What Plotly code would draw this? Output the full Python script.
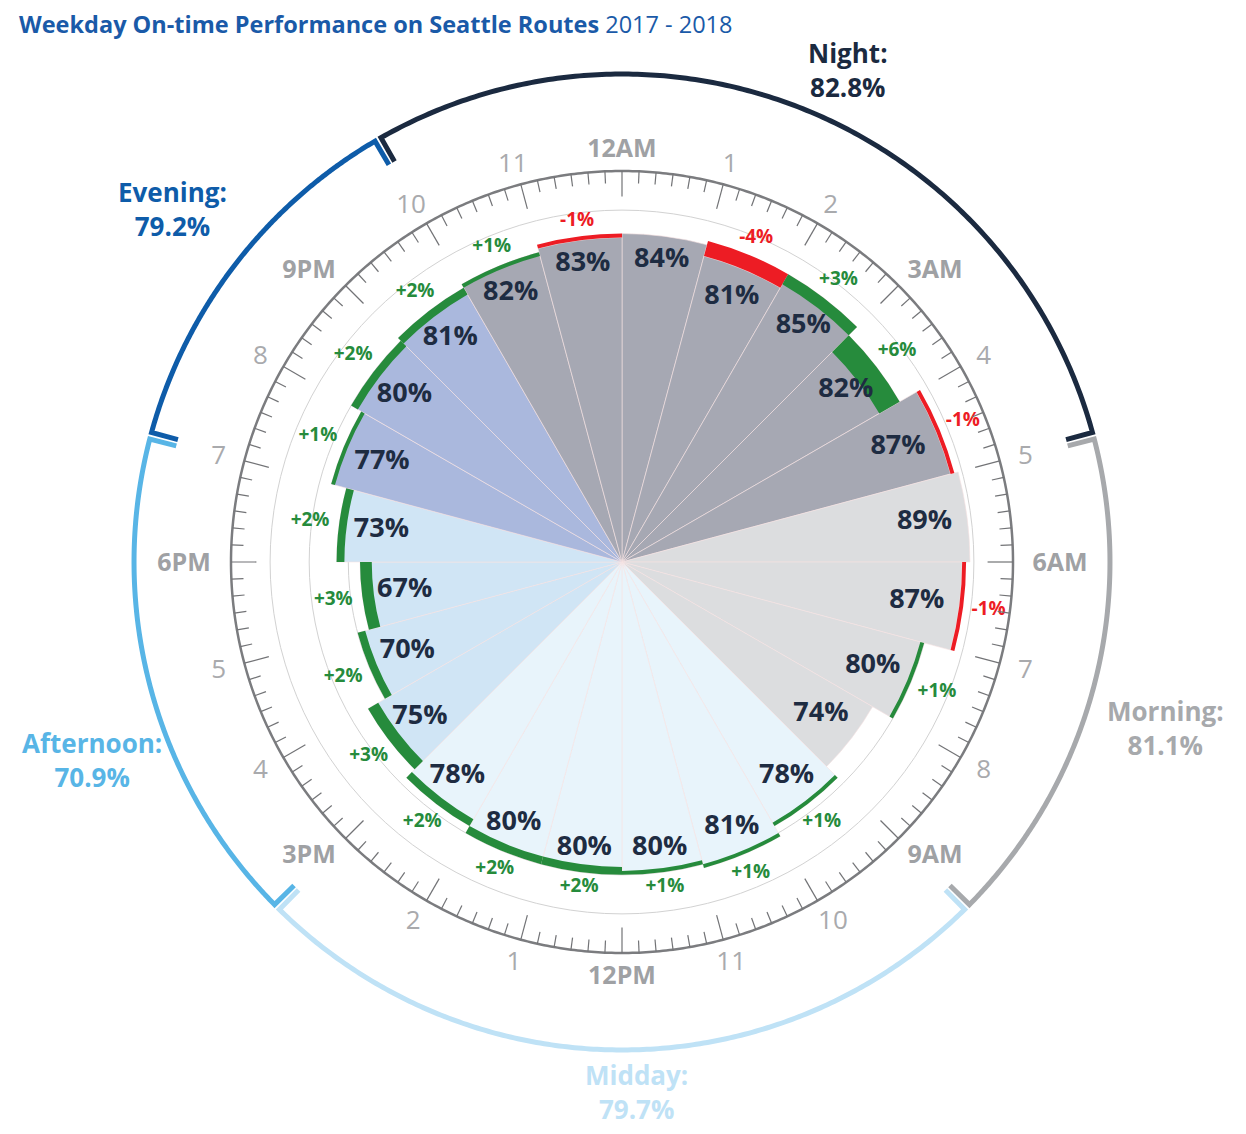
import numpy as np
import plotly.graph_objects as go

# hourly weekday on-time %, slot 0 = 12AM-1AM, going clockwise
hours = list(range(24))
on_time = [84, 81, 85, 82, 87, 89, 87, 80, 74, 78, 81, 80,
           80, 80, 78, 75, 70, 67, 73, 77, 80, 81, 82, 83]
# change vs the year before (points)
change = [0, -4, 3, 6, -1, 0, -1, 1, 0, 1, 1, 1,
          2, 2, 2, 3, 2, 3, 2, 1, 2, 2, 1, -1]

hour_labels = ["12AM", "1", "2", "3AM", "4", "5", "6AM", "7", "8", "9AM", "10", "11",
               "12PM", "1", "2", "3PM", "4", "5", "6PM", "7", "8", "9PM", "10", "11"]

periods = ["Midday", "Morning", "Afternoon", "Evening", "Night"]  # draw order
period_start = [9, 5, 15, 19, 22]
period_end = [15, 9, 19, 22, 29]  # night runs past midnight to 5AM
period_avg = [79.7, 81.1, 70.9, 79.2, 82.8]

# styles
bar_col = {"Night": "#a6a8b3", "Morning": "#dcdddf", "Midday": "#e8f4fb",
           "Afternoon": "#d0e5f5", "Evening": "#aab8dd"}
arc_col = {"Night": "#1b2a40", "Morning": "#a7a9ac", "Midday": "#bfe2f6",
           "Afternoon": "#58b5e6", "Evening": "#0e5ca9"}
label_pos = {"Night": (848, 70), "Evening": (172, 209), "Afternoon": (92, 760),
             "Midday": (636, 1092), "Morning": (1165, 728)}
GREEN = "#268b3c"
RED = "#ed1c24"
NAVY = "#1e2c42"
FONT = "Open Sans"
W, H = 1246, 1134
OFF = 8  # page body margin
PX = 3.91  # pixels per percent point


def period_of(h):
    for p, s, e in zip(periods, period_start, period_end):
        if s <= h < e or s <= h + 24 < e:
            return p


theta_mid = [h * 15 + 7.5 for h in hours]
colors = [bar_col[period_of(h)] for h in hours]

fig = go.Figure()

# hourly bars
fig.add_trace(go.Barpolar(
    r=on_time, theta=theta_mid, width=[15] * 24,
    marker=dict(color=colors, line=dict(color="#f6e2e3", width=0.6)),
    hoverinfo="skip"))

# change bands between last year and this year
band_r, band_base, band_t, band_c = [], [], [], []
for v, c, t in zip(on_time, change, theta_mid):
    if c == 0:
        continue
    band_base.append(min(v, v - c))
    band_r.append(abs(c))
    band_t.append(t)
    band_c.append(GREEN if c > 0 else RED)
fig.add_trace(go.Barpolar(
    r=band_r, base=band_base, theta=band_t, width=[15] * len(band_r),
    marker=dict(color=band_c, line=dict(width=0)), hoverinfo="skip"))

# value labels inside bars
vl_r = [v - 5.5 - 5.5 * abs(np.sin(np.radians(t))) for v, t in zip(on_time, theta_mid)]
fig.add_trace(go.Scatterpolar(
    r=vl_r, theta=theta_mid, mode="text",
    text=[f"{v}%" for v in on_time],
    textfont=dict(family=FONT, size=27, color=NAVY, weight="bold"),
    hoverinfo="skip"))

# change labels
cl_r, cl_t, cl_txt, cl_col = [], [], [], []
for v, c, t in zip(on_time, change, theta_mid):
    if c == 0:
        continue
    half = 3.1 if c < 0 else 4.0
    cl_r.append(max(v, v - c) + 3.5 + half * abs(np.sin(np.radians(t))))
    cl_t.append(t)
    cl_txt.append(f"{c:+d}%")
    cl_col.append(GREEN if c > 0 else RED)
fig.add_trace(go.Scatterpolar(
    r=cl_r, theta=cl_t, mode="text", text=cl_txt,
    textfont=dict(family=FONT, size=19, color=cl_col, weight="bold"),
    hoverinfo="skip"))

# clock dial: ring + ticks
ring_t = np.linspace(0, 360, 721)
fig.add_trace(go.Scatterpolar(
    r=[100] * len(ring_t), theta=ring_t, mode="lines",
    line=dict(color="#7b7c7f", width=2.5), hoverinfo="skip"))
tk_r, tk_t = [], []
for k in range(144):
    inner = 93.5 if k % 6 == 0 else 96.9
    tk_r += [inner, 100, None]
    tk_t += [k * 2.5, k * 2.5, None]
fig.add_trace(go.Scatterpolar(
    r=tk_r, theta=tk_t, mode="lines",
    line=dict(color="#727376", width=1.2), hoverinfo="skip"))

# hour labels: sit on a circle, pushed sideways by about half their width
bold = [len(s) > 2 for s in hour_labels]
hl_r, hl_t = [], []
for s, h, b in zip(hour_labels, hours, bold):
    a = np.radians(h * 15)
    sa = np.sin(a)
    if b:
        push = 0.33 * 25 * len(s) / PX * np.sign(sa) * np.sqrt(abs(sa))
    else:
        push = 0.5 * 0.33 * 26 * len(s) / PX * sa
    x = 105.7 * sa + push
    y = 105.7 * np.cos(a) - 2.5 / PX
    hl_r.append(float(np.hypot(x, y)))
    hl_t.append(float(np.degrees(np.arctan2(x, y))))
for flag, size, col in [(True, 25, "#9fa1a4"), (False, 26, "#a9aaad")]:
    idx = [i for i in hours if bold[i] == flag]
    fig.add_trace(go.Scatterpolar(
        r=[hl_r[i] for i in idx], theta=[hl_t[i] for i in idx], mode="text",
        text=[hour_labels[i] for i in idx],
        textfont=dict(family=FONT, size=size, color=col,
                      weight="bold" if flag else "normal"),
        hoverinfo="skip"))

# period arcs with end caps
ARC_R, CAP_R = 124.8, 117.8
for p, s, e in zip(periods, period_start, period_end):
    t0, t1 = s * 15 + 0.4, e * 15 - 0.4
    tt = list(np.linspace(t0, t1, 200))
    fig.add_trace(go.Scatterpolar(
        r=[CAP_R] + [ARC_R] * len(tt) + [CAP_R], theta=[t0] + tt + [t1],
        mode="lines", line=dict(color=arc_col[p], width=5), hoverinfo="skip"))

# period labels
for p, avg in zip(periods, period_avg):
    x, y = label_pos[p]
    fig.add_annotation(
        x=(x - OFF) / W, y=1 - (y - OFF) / H, xref="paper", yref="paper",
        showarrow=False, xanchor="center", yanchor="middle",
        text=f"<b>{p}:</b><br><b>{avg:.1f}%</b>", align="center",
        font=dict(family=FONT, size=26, color=arc_col[p]))

fig.add_annotation(
    x=(18 - OFF) / W, y=1 - 15.5 / H, xref="paper", yref="paper",
    showarrow=False, xanchor="left", yanchor="middle", borderpad=0,
    text="<b>Weekday On-time Performance on Seattle Routes</b> 2017 - 2018",
    font=dict(family=FONT, size=23.5, color="#1a5aa8"))

R = 130
cx, cy = 622 - OFF, 562 - OFF
rad = R * PX
fig.update_layout(
    width=W, height=H, margin=dict(l=0, r=0, t=0, b=0),
    paper_bgcolor="white", plot_bgcolor="white", showlegend=False,
    polar=dict(
        domain=dict(x=[(cx - rad) / W, (cx + rad) / W],
                    y=[1 - (cy + rad) / H, 1 - (cy - rad) / H]),
        bgcolor="white",
        radialaxis=dict(range=[0, R], tickvals=list(range(10, 100, 10)),
                        showticklabels=False, ticks="", showline=False,
                        gridcolor="#d2d2d2", gridwidth=1, layer="below traces"),
        angularaxis=dict(rotation=90, direction="clockwise", showgrid=False,
                         showline=False, ticks="", showticklabels=False,
                         layer="below traces"),
    ),
)

fig.write_html("out.html")
